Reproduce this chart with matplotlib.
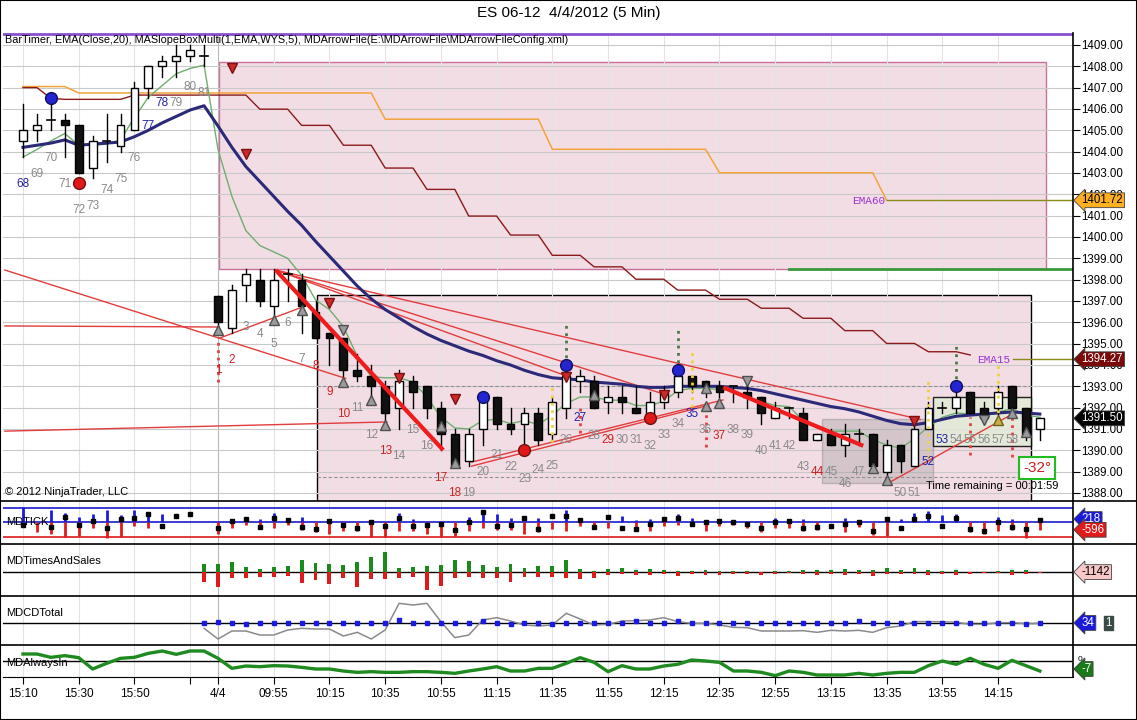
import numpy as np
import matplotlib
matplotlib.use('Agg')
import matplotlib.pyplot as plt
from matplotlib.patches import Rectangle
from matplotlib.lines import Line2D

plt.rcParams['font.family'] = ['Liberation Sans', 'DejaVu Sans']

# ---- data (bar position p = 0..73) ----
bar_numbers = list(range(68, 82)) + list(range(1, 61))
tick_pos = [0, 4, 8, 12, 14, 18, 22, 26, 30, 34, 38, 42, 46, 50, 54, 58, 62, 66, 70]
tick_labels = ['15:10', '15:30', '15:50', '', '4/4', '09:55', '10:15', '10:35', '10:55',
               '11:15', '11:35', '11:55', '12:15', '12:35', '12:55', '13:15', '13:35',
               '13:55', '14:15']

opens = [1404.5, 1405.0, 1405.5, 1405.5, 1405.25, 1403.25, 1404.5, 1404.25, 1405.0, 1407.0,
         1408.0, 1408.25, 1408.5, 1408.5,
         1397.25, 1395.75, 1397.75, 1398.0, 1396.75, 1398.25, 1398.0, 1396.5, 1395.5, 1395.25,
         1393.75, 1393.5, 1393.0, 1392.0, 1393.25, 1393.0, 1392.0, 1390.75, 1389.5, 1391.0,
         1392.5, 1391.25, 1391.25, 1391.75, 1390.75, 1392.0, 1393.25, 1393.25, 1392.25, 1392.5,
         1392.0, 1391.5, 1392.25, 1392.75, 1393.5, 1393.25, 1393.0, 1393.0, 1392.75, 1392.5,
         1391.5, 1392.0, 1391.75, 1390.5, 1390.75, 1390.25, 1390.75, 1390.75, 1389.0, 1390.25,
         1389.25, 1391.0, 1392.0, 1392.0, 1392.75, 1392.0, 1392.0, 1393.0, 1392.0, 1391.0]
highs = [1406.25, 1405.75, 1406.25, 1405.75, 1405.25, 1404.75, 1405.75, 1405.75, 1407.25, 1408.0,
         1408.5, 1409.0, 1409.0, 1409.0,
         1397.25, 1397.75, 1398.5, 1398.5, 1398.5, 1398.5, 1398.25, 1397.0, 1395.5, 1395.25,
         1394.5, 1394.0, 1393.25, 1393.75, 1393.5, 1393.0, 1392.25, 1391.0, 1391.0, 1392.75,
         1392.5, 1392.0, 1392.0, 1392.0, 1392.5, 1394.0, 1393.75, 1393.5, 1393.0, 1393.0,
         1393.0, 1392.75, 1393.0, 1393.75, 1393.5, 1393.25, 1393.25, 1393.0, 1393.25, 1392.5,
         1392.25, 1392.0, 1392.0, 1390.75, 1391.0, 1391.25, 1391.0, 1390.75, 1390.5, 1390.25,
         1391.5, 1392.25, 1392.25, 1393.0, 1392.75, 1392.25, 1393.0, 1393.0, 1392.0, 1391.5]
lows = [1403.75, 1404.5, 1405.0, 1403.75, 1403.0, 1402.75, 1403.5, 1404.0, 1405.0, 1406.5,
        1407.5, 1407.5, 1408.25, 1408.0,
        1395.75, 1395.5, 1397.0, 1396.75, 1396.25, 1397.0, 1395.5, 1395.25, 1394.0, 1393.5,
        1393.25, 1392.5, 1391.0, 1391.0, 1392.0, 1391.5, 1390.0, 1389.25, 1389.25, 1390.25,
        1391.0, 1390.75, 1390.25, 1390.25, 1390.5, 1391.5, 1392.75, 1392.0, 1391.75, 1391.75,
        1391.75, 1391.5, 1392.0, 1392.5, 1392.75, 1392.5, 1392.5, 1392.25, 1392.0, 1391.25,
        1391.5, 1391.5, 1390.5, 1390.5, 1390.25, 1389.75, 1390.25, 1389.0, 1388.75, 1389.0,
        1389.25, 1391.0, 1391.75, 1391.75, 1391.75, 1391.25, 1391.5, 1391.75, 1390.5, 1390.5]
closes = [1405.0, 1405.25, 1405.5, 1405.25, 1403.0, 1404.5, 1404.5, 1405.25, 1407.0, 1408.0,
          1408.25, 1408.5, 1408.75, 1408.5,
          1396.0, 1397.5, 1398.25, 1397.0, 1398.0, 1398.25, 1396.75, 1395.25, 1395.25, 1393.75,
          1393.5, 1393.0, 1391.75, 1393.25, 1392.75, 1392.0, 1390.75, 1389.25, 1390.75, 1392.5,
          1391.25, 1391.0, 1391.75, 1390.5, 1392.25, 1393.5, 1393.5, 1392.0, 1392.5, 1392.25,
          1391.75, 1392.25, 1392.75, 1393.5, 1393.0, 1393.0, 1392.75, 1393.0, 1392.5, 1391.75,
          1392.0, 1392.0, 1390.5, 1390.75, 1390.25, 1390.75, 1390.75, 1389.25, 1390.25, 1389.5,
          1391.0, 1392.0, 1392.0, 1392.5, 1391.75, 1391.5, 1392.75, 1392.0, 1390.75, 1391.5]

ema20 = [1404.2, 1404.3, 1404.4, 1404.55, 1404.3, 1404.35, 1404.4, 1404.45, 1404.7, 1405.0,
         1405.35, 1405.65, 1405.95, 1406.15, 1405.2, 1404.2, 1403.3, 1402.6, 1401.9, 1401.2,
         1400.55, 1399.8, 1399.1, 1398.4, 1397.7, 1397.1, 1396.6, 1396.2, 1395.8, 1395.45,
         1395.15, 1394.9, 1394.65, 1394.45, 1394.2, 1394.0, 1393.75, 1393.55, 1393.4, 1393.35,
         1393.3, 1393.2, 1393.15, 1393.1, 1393.0, 1392.95, 1392.95, 1393.0, 1393.0, 1393.0,
         1393.0, 1392.95, 1392.9, 1392.8, 1392.65, 1392.5, 1392.35, 1392.2, 1392.05, 1391.95,
         1391.8, 1391.6, 1391.4, 1391.25, 1391.2, 1391.3, 1391.45, 1391.6, 1391.65, 1391.7,
         1391.75, 1391.8, 1391.75, 1391.7]
ema_fast = [1403.75, 1404.1, 1404.5, 1404.85, 1404.3, 1404.3, 1404.35, 1404.55, 1405.6, 1406.55,
            1407.1, 1407.65, 1407.9, 1408.05, 1404.1, 1401.9, 1400.3, 1399.6, 1399.3, 1399.0,
            1398.2, 1397.05, 1396.6, 1395.8, 1394.4, 1393.45, 1393.4, 1393.4, 1393.2, 1392.5,
            1391.55, 1391.05, 1391.0, 1391.4, 1391.45, 1391.25, 1391.4, 1391.2, 1391.65, 1392.2,
            1392.5, 1392.5, 1392.35, 1392.35, 1392.1, 1392.1, 1392.3, 1392.8, 1392.9, 1392.9,
            1392.85, 1392.8, 1392.5, 1392.3, 1392.1, 1392.05, 1391.4, 1391.05, 1390.9, 1390.9,
            1390.9, 1390.5, 1390.25, 1390.1, 1390.55, 1391.1, 1391.55, 1391.75, 1391.7, 1391.65,
            1391.8, 1391.95, 1391.65, 1391.55]
ema15_steps = [1407.0, 1407.0, 1406.5, 1406.45, 1406.45, 1406.45, 1406.45, 1406.45, 1406.65,
               1406.65, 1406.65, 1406.65, 1406.65, 1406.65, 1406.65, 1406.65, 1406.65,
               1405.99, 1405.99, 1405.99, 1405.23, 1405.23, 1405.23, 1404.3, 1404.3, 1404.3,
               1403.23, 1403.23, 1403.23, 1402.23, 1402.23, 1402.23, 1400.98, 1400.98, 1400.98,
               1400.09, 1400.09, 1400.09, 1399.14, 1399.14, 1399.14, 1398.6, 1398.6, 1398.6,
               1398.02, 1398.02, 1398.02, 1397.51, 1397.51, 1397.51, 1397.08, 1397.08, 1397.08,
               1396.66, 1396.66, 1396.66, 1396.19, 1396.19, 1396.19, 1395.61, 1395.61, 1395.61,
               1395.01, 1395.01, 1395.01, 1394.62, 1394.62, 1394.62, 1394.47]
ema60_steps = [1407.05] * 4 + [1406.75] * 22 + [1405.52] * 12 + [1404.11] * 12 + \
              [1403.01] * 12 + [1401.72]
ema60_last, ema15_last, last_price = 1401.72, 1394.27, 1391.50

label_prices = [1402.48, 1402.95, 1403.70, 1402.48, 1401.26, 1401.45, 1402.20, 1402.72, 1403.70,
                1405.20, 1406.28, 1406.28, 1407.03, 1406.75,
                1393.76, 1394.23, 1395.78, 1395.45, 1394.98, 1395.97, 1394.28, 1393.95, 1392.73,
                1391.70, 1391.98, 1390.72, 1389.97, 1389.73, 1390.95, 1390.20, 1388.70, 1388.00,
                1388.00, 1388.98, 1389.78, 1389.22, 1388.65, 1389.08, 1389.26, 1390.48, 1391.51,
                1390.67, 1390.48, 1390.48, 1390.48, 1390.20, 1390.72, 1391.23, 1391.70, 1390.95,
                1390.67, 1390.95, 1390.72, 1389.97, 1390.20, 1390.20, 1389.22, 1388.98, 1388.98,
                1388.42, 1388.98, None, None, 1388.0, 1388.0, 1389.45, 1390.48, 1390.48, 1390.48,
                1390.48, 1390.48, 1390.48, None, None]
red_numbers = [1, 2, 8, 9, 10, 13, 17, 18, 29, 37, 44]
blue_numbers = [68, 77, 78, 27, 35, 52, 53]

# signal markers (bar position, price)
red_down = [(15, 1407.9), (16, 1403.88), (22, 1396.89), (27, 1393.39), (31, 1392.41),
            (39, 1393.44), (46, 1392.59), (64, 1391.39)]
grey_down = [(23, 1395.64), (52, 1393.25), (69, 1391.4)]
grey_up = [(14, 1395.64), (18, 1396.11), (20, 1396.6), (23, 1393.22), (25, 1392.36),
           (26, 1391.19), (30, 1391.16), (31, 1389.42), (41, 1392.59), (49, 1392.9),
           (49, 1392.07), (50, 1392.23), (61, 1389.15), (62, 1388.6), (71, 1391.76),
           (72, 1390.87)]
blue_dots = [(2, 1406.5), (33, 1392.51), (39, 1394.0), (47, 1393.77), (67, 1393.01)]
red_dots = [(4, 1402.53), (36, 1390.01), (45, 1391.53)]
green_stems = [(39, 1395.99, 1394.0), (47, 1395.76, 1393.77), (67, 1395.01, 1393.01)]
red_stems = [(14, 1395.17, 1393.22), (40, 1392.04, 1390.8), (49, 1392.04, 1390.17),
             (68, 1391.57, 1389.78), (71, 1391.75, 1389.7)]
yellow_stems = [(38, 1393.15, 1390.4), (48, 1394.7, 1392.04), (65, 1393.3, 1389.64),
                (70, 1394.1, 1391.42)]

# trend lines ((p0, price0), (p1, price1))
thin_lines = [((-1.3, 1398.45), (23.17, 1393.37)),
              ((-1.3, 1395.83), (14.07, 1395.78)),
              ((14.07, 1395.25), (20.12, 1396.73)),
              ((-1.3, 1390.9), (26.13, 1391.33)),
              ((18.14, 1398.45), (64.4, 1391.45)),
              ((18.14, 1398.45), (46.23, 1392.59)),
              ((18.14, 1398.45), (39.2, 1393.44)),
              ((32.21, 1389.26), (49.25, 1392.12)),
              ((32.21, 1389.45), (50.25, 1392.36)),
              ((62.3, 1388.53), (71.36, 1391.82))]
thick_lines = [((18.14, 1398.45), (30.17, 1390.01)),
               ((50.27, 1392.95), (60.32, 1390.21))]

# lower panels
tick_hi = [658, 0, 518, 378, 238, 336, 518, 308, 518, 420, 336, 0, 0, 0,
           0, 0, 0, 140, 378, 0, 238, 0, 0, 0, 0, 0, 0, 378, 140, 0, 0, 0, 238, 518, 336, 168,
           0, 196, 0, 518, 0, 0, 0, 280, 98, 140, 0, 336, 168, 0, 0, 0, 0, 0, 168, 0, 140, 0,
           0, 168, 98, 0, 238, 140, 378, 476, 308, 336, 0, 0, 238, 140, 0, 0]
tick_lo = [0, -392, -504, -602, -560, -252, -672, -602, -140, -224, 0, 0, 0, 0,
           -504, -252, -112, -252, -252, -112, -322, -392, -504, -364, -364, -602, -602, -364,
           -364, -504, -602, -560, -364, -224, -322, -322, -504, -392, -300, -364, -140, -224,
           -224, 0, -364, -364, -140, -112, 0, -364, -140, -112, -252, -392, -224, -224, -364,
           -322, 0, -392, -182, -532, -560, 0, 0, 0, 0, 0, -392, -504, -364, -322, -644, -322]
tick_close = [-112, np.nan, -182, 238, -112, 70, -224, 126, 196, 336, -140, 280, 336, np.nan,
              -224, 70, 140, -182, 196, 98, -210, -280, 70, -112, -224, 28, -154, 196, -140,
              -112, -70, -322, 28, 420, -140, -112, 196, -294, 280, 280, 98, -210, 238, -224,
              -280, -84, 140, 196, -84, 0, 56, 28, -84, -224, 0, 56, -252, -210, -154, -84, 0,
              -364, 140, -224, 140, 280, -140, 168, -294, -364, 0, -210, -294, 98]
ts_buy = [0] * 13 + [500, 500, 640, 340, 200, 340, 400, 740, 540, 500, 440, 600, 940, 1240,
                     280, 340, 400, 440, 740, 700, 440, 340, 480, 280, 400, 400, 740, 200, 80,
                     200, 280, 140, 200, 140, 80, 80, 140, 80, 80, 60, 40, 60, 60, 140, 140,
                     140, 200, 140, 140, 280, 140, 280, 140, 60, 140, 0, 0, 60, 140, 140, 0]
ts_sell = [0] * 13 + [600, 860, 320, 320, 260, 260, 200, 660, 460, 720, 320, 860, 400, 400,
                      320, 260, 1060, 800, 320, 260, 320, 360, 560, 260, 260, 260, 320, 400,
                      320, 160, 120, 160, 160, 80, 220, 100, 160, 160, 100, 100, 160, 100, 40,
                      100, 160, 100, 160, 100, 220, 120, 100, 100, 160, 100, 160, 80, 40, 60,
                      160, 100, 40]
cd_total = [np.nan] * 13 + [-150, -470, -230, -230, -350, -350, -200, -150, -170, -170, -380,
                            -270, -470, -200, 600, 550, 600, 50, -430, -350, 100, 170, 70, -50,
                            -80, -50, 300, 130, -50, -30, 70, 80, 100, 170, 50, 0, 0, -50,
                            -120, -130, -230, -230, -230, -220, -270, -210, -230, -210, -270,
                            -130, -80, 50, 50, 50, 30, -30, -30, 20, 20, -10, 0]
cd_bar = [np.nan] * 13 + [20, 50, 20, -20, 20, 20, 20, 20, 20, 20, 20, 20, 20, 20, 110, 20, 20,
                          20, 20, 20, 70, 20, -20, 20, 20, -10, 20, 20, 20, 20, 20, 60, 20, 20,
                          70, 20, 20, 20, 20, 20, 20, 20, 20, 20, 20, 20, 20, 60, 20, 20, 20,
                          20, 20, 20, 20, 20, 20, 20, 20, -20, 20]
always_in = [21, 21, 11, 16, 10, -24, -7, 8, 11, 23, 30, 20, 30, 30, 8, -22, -15, -17, -14, -15,
             -19, -24, -24, -30, -34, -32, -34, -34, -32, -32, -34, -37, -30, -24, -17, -30,
             -30, -22, -22, -7, 10, -4, -32, -14, -24, -24, -15, -10, 3, 0, -4, -30, -30, -34,
             -44, -30, -34, -42, -42, -42, -37, -42, -37, -34, -34, -14, 0, -10, 8, -10, -22,
             2, -14, -30]

# ---- figure ----
W, H = 1137, 720
fig = plt.figure(figsize=(W / 100, H / 100), dpi=100)
XL = (-1.436, 75.38)


def panel(top, bottom):
    a = fig.add_axes([3 / W, 1 - bottom / H, 1070 / W, (bottom - top) / H])
    a.set_xlim(*XL)
    a.set_facecolor('white')
    for s in ['top', 'left', 'bottom']:
        a.spines[s].set_visible(False)
    a.spines['right'].set_linewidth(1.2)
    a.set_yticks([])
    a.set_xticks([])
    for p in tick_pos:
        a.axvline(p, color='#b8b8b8' if p == 14 else '#e2e2e2', lw=0.8, zorder=0.6)
    return a


ax = panel(33, 501)
ax_tick = panel(501, 544)
ax_ts = panel(544, 596)
ax_cd = panel(596, 645)
ax_ai = panel(645, 677)

x = np.arange(len(closes))

# main price panel
ax.set_ylim(1387.625, 1409.56)
for v in range(1388, 1410):
    ax.axhline(v, color='#c9c9c9', lw=0.8, zorder=0.6)
ax.yaxis.tick_right()
ax.set_yticks(range(1388, 1410))
ax.set_yticklabels([f'{v}.00' for v in range(1388, 1410)], fontsize=8.3)
ax.tick_params(axis='y', direction='out', length=5, width=0.8, pad=1)

pink = '#f3dde5'
ax.add_patch(Rectangle((14.07, 1398.48), 73.42 - 14.07, 1408.22 - 1398.48,
                       fc=pink, ec='#c8709a', lw=1, zorder=0.5))
ax.add_patch(Rectangle((21.13, 1387.0), 72.36 - 21.13, 1397.28 - 1387.0,
                       fc=pink, ec='black', lw=1, zorder=0.5))
ax.add_patch(Rectangle((57.34, 1388.48), 65.35 - 57.34, 1391.47 - 1388.48,
                       fc='#9a9a9a', alpha=0.35, ec='#707070', lw=1, zorder=1.1))
ax.add_patch(Rectangle((65.35, 1390.22), 72.36 - 65.35, 1392.48 - 1390.22,
                       fc='#e2ead8', alpha=0.85, ec='black', lw=1, zorder=1.1))

ax.axhline(1409.5, color='#8a4fd0', lw=2, zorder=2)
for lvl in (1393.0, 1388.73):
    ax.plot([21.13, 72.36], [lvl, lvl], color='#909090', lw=0.8, ls=(0, (3, 2)), zorder=1.2)
ax.plot([55, XL[1]], [1398.48, 1398.48], color='#3a9a3a', lw=2, zorder=2)

ax.plot(np.arange(len(ema60_steps)), ema60_steps, color='#f2a43a', lw=1.1, zorder=2)
ax.plot([len(ema60_steps) - 1, XL[1]], [ema60_last] * 2, color='#8c8a1a', lw=1, zorder=2)
ax.plot(np.arange(len(ema15_steps)), ema15_steps, color='#8b1a1a', lw=1, zorder=2)
ax.plot([71.1, XL[1]], [ema15_last] * 2, color='#8c8a1a', lw=1, zorder=2)
ax.text(59.5, 1401.69, 'EMA60', color='#9933cc', fontsize=8, family='Liberation Mono',
        ha='left', va='center', zorder=3)
ax.text(68.5, 1394.23, 'EMA15', color='#9933cc', fontsize=8, family='Liberation Mono',
        ha='left', va='center', zorder=3)

for (a0, b0), (a1, b1) in thin_lines:
    ax.plot([a0, a1], [b0, b1], color='#e23c3c', lw=1, zorder=2.2)
for (a0, b0), (a1, b1) in thick_lines:
    ax.plot([a0, a1], [b0, b1], color='#ee1c1c', lw=3, zorder=3.5, solid_capstyle='butt')

ax.plot(x, ema_fast, color='#6fae6f', lw=1, zorder=2.5)
ax.plot(x, ema20, color='#2a2a78', lw=2.2, zorder=2.6)

# candles
bw = 0.56
for i in range(len(closes)):
    o, h, l, c = opens[i], highs[i], lows[i], closes[i]
    ax.plot([i, i], [l, h], color='black', lw=1, zorder=3)
    if o == c:
        ax.plot([i - bw / 2, i + bw / 2], [c, c], color='black', lw=1.2, zorder=3.1)
    else:
        ax.add_patch(Rectangle((i - bw / 2, min(o, c)), bw, abs(c - o),
                               fc='white' if c > o else '#111111', ec='black', lw=1,
                               zorder=3.1))

for p, top, bot in green_stems:
    ax.plot([p, p], [bot, top], color='#4a7a4a', lw=2, ls=':', zorder=3.3)
for p, top, bot in red_stems:
    ax.plot([p, p], [bot, top], color='#e04040', lw=2, ls=':', zorder=3.3)
for p, top, bot in yellow_stems:
    ax.plot([p, p], [bot, top], color='#f0d040', lw=2, ls=':', zorder=3.3)

ax.plot(*zip(*red_down), 'v', color='#cc2a2a', mec='#7a1010', ms=7, zorder=4)
ax.plot(*zip(*grey_down), 'v', color='#9a9a9a', mec='#505050', ms=7, zorder=4)
ax.plot(*zip(*grey_up), '^', color='#9a9a9a', mec='#505050', ms=7, zorder=4)
ax.plot([70], [1391.4], '^', color='#c8b040', mec='#706020', ms=7, zorder=4)
ax.plot(*zip(*blue_dots), 'o', color='#2424d0', mec='#101060', ms=8.5, zorder=4)
ax.plot(*zip(*red_dots), 'o', color='#e01818', mec='#701010', ms=8.5, zorder=4)

for i, (num, yp) in enumerate(zip(bar_numbers, label_prices)):
    if yp is None:
        continue
    col = '#8a8a8a'
    if num in red_numbers and i >= 14:
        col = '#cc2222'
    if num in blue_numbers and ((num >= 68 and i < 14) or (num < 68 and i >= 14)):
        col = '#2222aa'
    ax.text(i, yp, str(num), color=col, fontsize=8.5, ha='center', va='center', zorder=4.5)

ax.text(72.8, 1389.17, '-32°', color='#cc2020', fontsize=11, ha='center', va='center',
        zorder=5, bbox=dict(boxstyle='square,pad=0.25', fc='white', ec='#22bb22', lw=1.5))
ax.text(64.8, 1388.33, 'Time remaining = 00:01:59', fontsize=8, ha='left', va='center',
        zorder=5)
ax.text(2 / 1070, 1 - 7 / 468,
        'BarTimer, EMA(Close,20), MASlopeBoxMulti(1,EMA,WYS,5), '
        'MDArrowFile(E:\\MDArrowFile\\MDArrowFileConfig.xml)',
        transform=ax.transAxes, fontsize=7.8, ha='left', va='center', zorder=5)
ax.text(2 / 1070, 9 / 468, '© 2012 NinjaTrader, LLC', transform=ax.transAxes, fontsize=8,
        ha='left', va='center', zorder=5)

yt = ax.get_yaxis_transform()
for val, fc, tc in [(ema60_last, '#ffb020', 'black'), (ema15_last, '#7a0a0a', 'white'),
                    (last_price, 'black', 'white')]:
    ax.text(1.008, val, f'{val:.2f}', transform=yt, fontsize=8.3, color=tc, ha='left',
            va='center', clip_on=False, zorder=6,
            bbox=dict(boxstyle='larrow,pad=0.12', fc=fc, ec='#404040', lw=0.6))

# MDTICK
ax_tick.set_ylim(-910, 896)
ax_tick.axhline(600, color='#1a1acc', lw=1.2)
ax_tick.axhline(0, color='#1a1acc', lw=1.2)
ax_tick.axhline(-600, color='#dd1a1a', lw=1.2)
ax_tick.vlines(x, 0, tick_hi, color='#1a1add', lw=2, zorder=2)
ax_tick.vlines(x, tick_lo, 0, color='#e01a1a', lw=2, zorder=2)
ax_tick.plot(x, tick_close, 's', color='black', ms=3.5, ls='none', zorder=3)
ax_tick.text(0.003, 0.52, 'MDTICK', transform=ax_tick.transAxes, fontsize=8, va='center')

# MDTimesAndSales
ax_ts.set_ylim(-1420, 1700)
ax_ts.axhline(0, color='black', lw=1)
ax_ts.bar(x, ts_buy, width=0.28, color='#1a8a1a', zorder=2)
ax_ts.bar(x, [-v for v in ts_sell], width=0.28, color='#e01a1a', zorder=2)
ax_ts.text(0.003, 0.67, 'MDTimesAndSales', transform=ax_ts.transAxes, fontsize=8, va='center')

# MDCDTotal
ax_cd.set_ylim(-650, 820)
ax_cd.axhline(0, color='black', lw=1)
ax_cd.plot(x, cd_total, color='#8a8a8a', lw=1.1, zorder=2)
ax_cd.plot(x, cd_bar, 's', color='#1a1ae0', ms=3.5, ls='none', zorder=3)
ax_cd.text(0.003, 0.66, 'MDCDTotal', transform=ax_cd.transAxes, fontsize=8, va='center')

# MDAlwaysIn
ax_ai.set_ylim(-48, 48)
ax_ai.axhline(0, color='black', lw=1)
ax_ai.plot(x, always_in, color='#1f8a1f', lw=2.4, zorder=2)
ax_ai.text(0.003, 0.45, 'MDAlwaysIn', transform=ax_ai.transAxes, fontsize=8, va='center')
ax_ai.set_xticks(tick_pos)
ax_ai.set_xticklabels(tick_labels, fontsize=8.5)
ax_ai.tick_params(axis='x', direction='out', length=5, width=0.8, pad=3)
ax_ai.spines['bottom'].set_visible(True)

# value tags on the lower panels
def tag(a, yf, s, fc, tc, dx=1.008):
    a.text(dx, yf, s, transform=a.transAxes, fontsize=8.3, color=tc, ha='left', va='center',
           clip_on=False, zorder=6,
           bbox=dict(boxstyle='larrow,pad=0.12', fc=fc, ec='#404040', lw=0.6))


tag(ax_tick, 0.58, '218', '#1a1add', 'white')
tag(ax_tick, 0.33, '-596', '#e01a1a', 'white')
tag(ax_ts, 0.46, '-1142', '#f8c8c8', 'black')
tag(ax_cd, 0.45, '34', '#1a1add', 'white')
ax_cd.text(1.03, 0.45, '1', transform=ax_cd.transAxes, fontsize=8.3, color='white',
           ha='left', va='center', clip_on=False, zorder=6,
           bbox=dict(boxstyle='square,pad=0.12', fc='#3a4a44', ec='#3a4a44'))
tag(ax_ai, 0.25, '-7', '#1a7a1a', 'white')
ax_ai.text(1.004, 0.55, '0', transform=ax_ai.transAxes, fontsize=6, ha='left', va='center',
           clip_on=False)

# panel separators and outer frame
for yy in (501, 544, 596, 645):
    fig.add_artist(Line2D([0, 1], [1 - yy / H] * 2, color='black', lw=1.2))
fig.add_artist(Rectangle((0, 0), 1, 1, transform=fig.transFigure, fill=False,
                         ec='black', lw=1.5))
fig.text(0.5, 1 - 13 / H, 'ES 06-12  4/4/2012 (5 Min)', ha='center', va='center', fontsize=11)

fig.savefig('out.png', dpi=100)
